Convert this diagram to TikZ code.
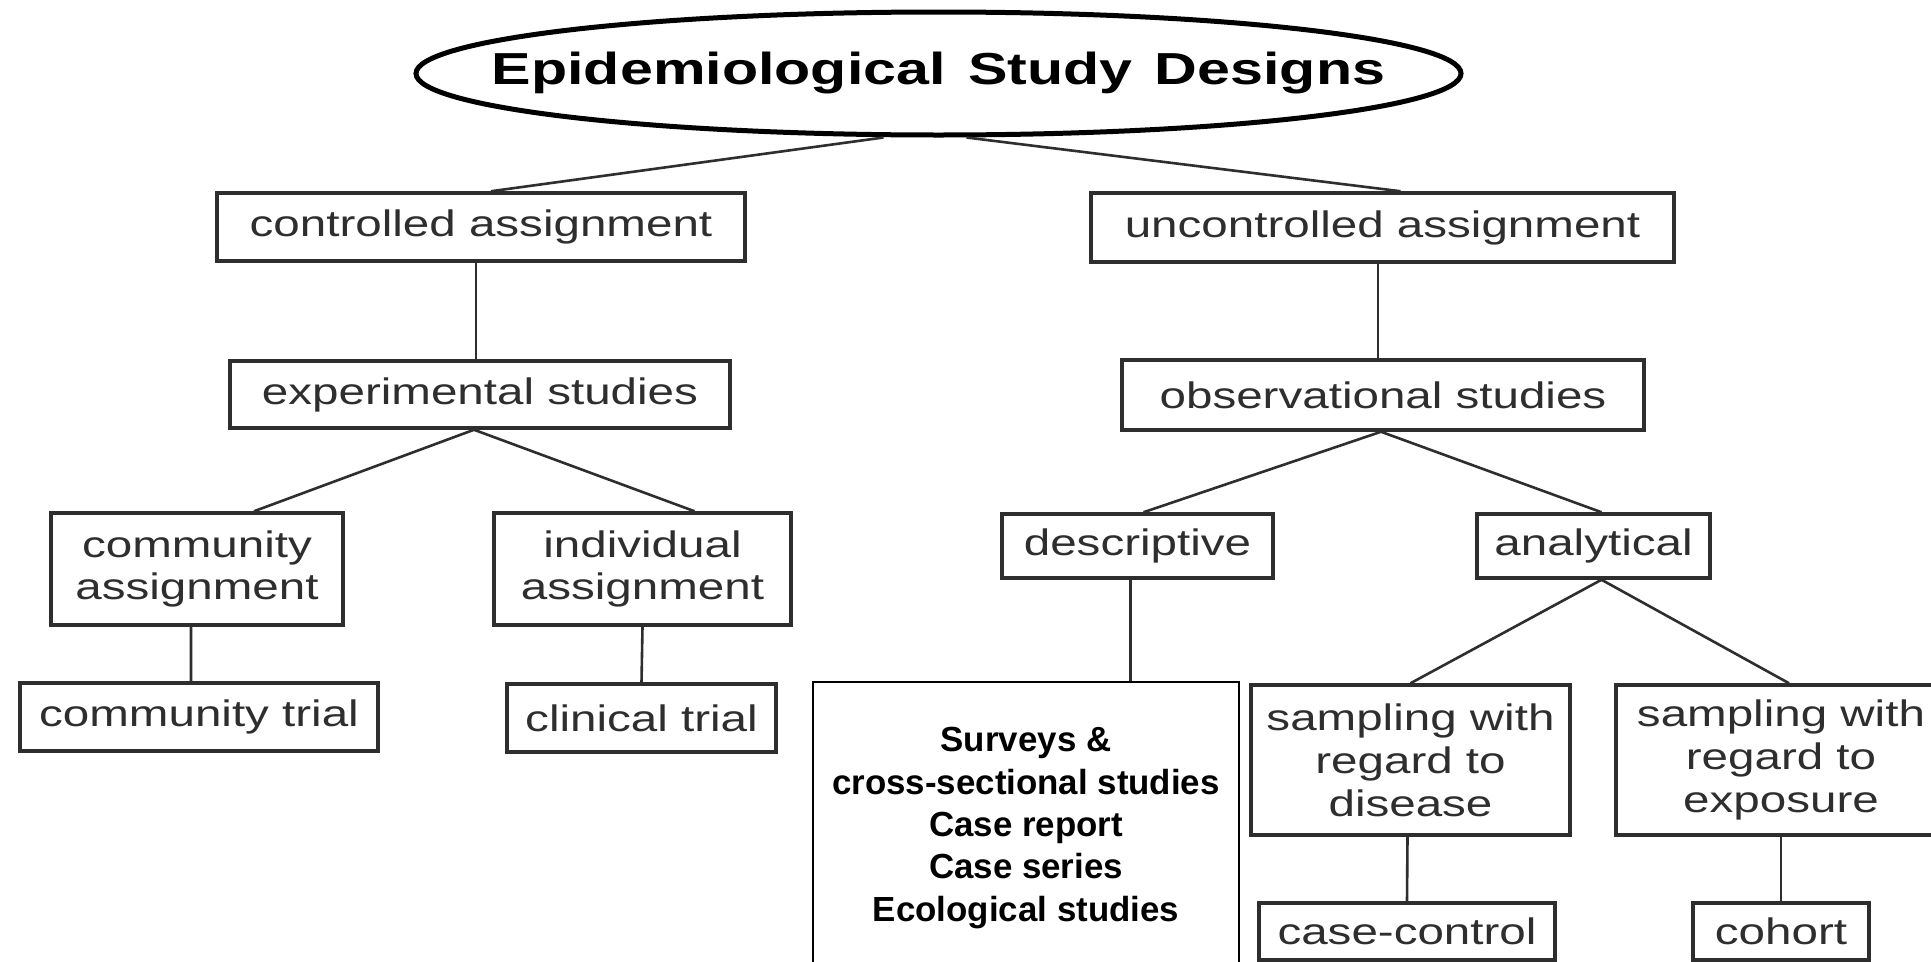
\documentclass[tikz,border=0pt]{standalone}
\usepackage{fontspec}
\setmainfont{Liberation Sans}
\newfontfamily\boxfont[FakeStretch=1.29]{Liberation Sans}
\newfontfamily\titlefont[FakeStretch=1.32]{Liberation Sans Bold}
\newfontfamily\svfont{Liberation Sans Bold}
\usetikzlibrary{shapes.geometric}
\definecolor{ink}{HTML}{2E2E2E}
\begin{document}
\begin{tikzpicture}[x=1bp,y=-1bp,
  box/.style={draw=ink, line width=3.5bp, fill=white, inner sep=0pt, align=center, text=ink, font=\boxfont\fontsize{37}{43}\selectfont},
  conn/.style={draw=ink, line width=2.6bp},
  titlebox/.style={ellipse, draw=black, line width=5bp, fill=white, inner sep=0pt, font=\titlefont\fontsize{45}{50}\selectfont},
  listbox/.style={draw=black, line width=2bp, fill=white, inner sep=0pt, align=center, font=\svfont\fontsize{35}{42.5}\selectfont}
]
\useasboundingbox (0,0) rectangle (1931,962);
\clip (0,0) rectangle (1931,962);
\fill[white] (0,0) rectangle (1931,962);

\node[titlebox, minimum width=1045bp, minimum height=123bp] (title) at (938.5,73.5) {\makebox[0pt][c]{Epidemiological\hspace{0.5em}Study\hspace{0.5em}Designs}};

\node[box, minimum width=528bp, minimum height=68bp] (ctrl) at (481,227) {controlled assignment};
\node[box, minimum width=583bp, minimum height=69bp] (unctrl) at (1382.5,227.5) {uncontrolled assignment};
\node[box, minimum width=500bp, minimum height=67bp] (exp) at (480,394.5) {experimental studies};
\node[box, minimum width=522bp, minimum height=70bp] (obs) at (1383,395) {observational studies};
\node[box, minimum width=292bp, minimum height=112bp] (commA) at (197,569) {community\\assignment};
\node[box, minimum width=297bp, minimum height=112bp] (indA) at (642.5,569) {individual\\assignment};
\node[box, minimum width=271bp, minimum height=64bp] (desc) at (1137.5,546) {descriptive};
\node[box, minimum width=233bp, minimum height=64bp] (anal) at (1593.5,546) {analytical};
\node[box, minimum width=358bp, minimum height=68bp] (commT) at (199,717) {community trial};
\node[box, minimum width=269bp, minimum height=68bp] (clinT) at (641.5,718) {clinical trial};
\node[box, minimum width=319bp, minimum height=150bp] (sampD) at (1410.5,760) {sampling with\\regard to\\disease};
\node[box, minimum width=330bp, minimum height=150bp] (sampE) at (1781,760) {sampling with\\regard to\\exposure};
\node[box, minimum width=296bp, minimum height=57bp] (cc) at (1407,931.5) {case-control};
\node[box, minimum width=176bp, minimum height=57bp] (cohort) at (1781,931.5) {cohort};
\node[listbox, minimum width=426bp, minimum height=292bp] (surv) at (1026,828) {Surveys \&\\cross-sectional studies\\Case report\\Case series\\Ecological studies};

\draw[conn] ([xshift=-55bp]title.south) -- ([xshift=10bp]ctrl.north);
\draw[conn] ([xshift=28bp]title.south) -- ([xshift=18bp]unctrl.north);
\draw[conn] ([xshift=-5bp]ctrl.south) -- ([xshift=-4bp]exp.north);
\draw[conn] ([xshift=-4.5bp]unctrl.south) -- ([xshift=-5bp]obs.north);
\draw[conn] ([xshift=-6bp]exp.south) -- ([xshift=57bp]commA.north);
\draw[conn] ([xshift=-6bp]exp.south) -- ([xshift=52bp]indA.north);
\draw[conn] ([xshift=-2bp]obs.south) -- ([xshift=6bp]desc.north);
\draw[conn] ([xshift=-2bp]obs.south) -- ([xshift=8bp]anal.north);
\draw[conn] ([xshift=-6bp]commA.south) -- ([xshift=-8bp]commT.north);
\draw[conn] (indA.south) -- (clinT.north);
\draw[conn] ([xshift=-7bp]desc.south) -- ([xshift=-7bp]desc.south |- surv.north);
\draw[conn] ([xshift=8bp]anal.south) -- (sampD.north);
\draw[conn] ([xshift=8bp]anal.south) -- ([xshift=8bp]sampE.north);
\draw[conn] ([xshift=-3bp]sampD.south) -- (cc.north);
\draw[conn] (sampE.south) -- (cohort.north);
\end{tikzpicture}
\end{document}
